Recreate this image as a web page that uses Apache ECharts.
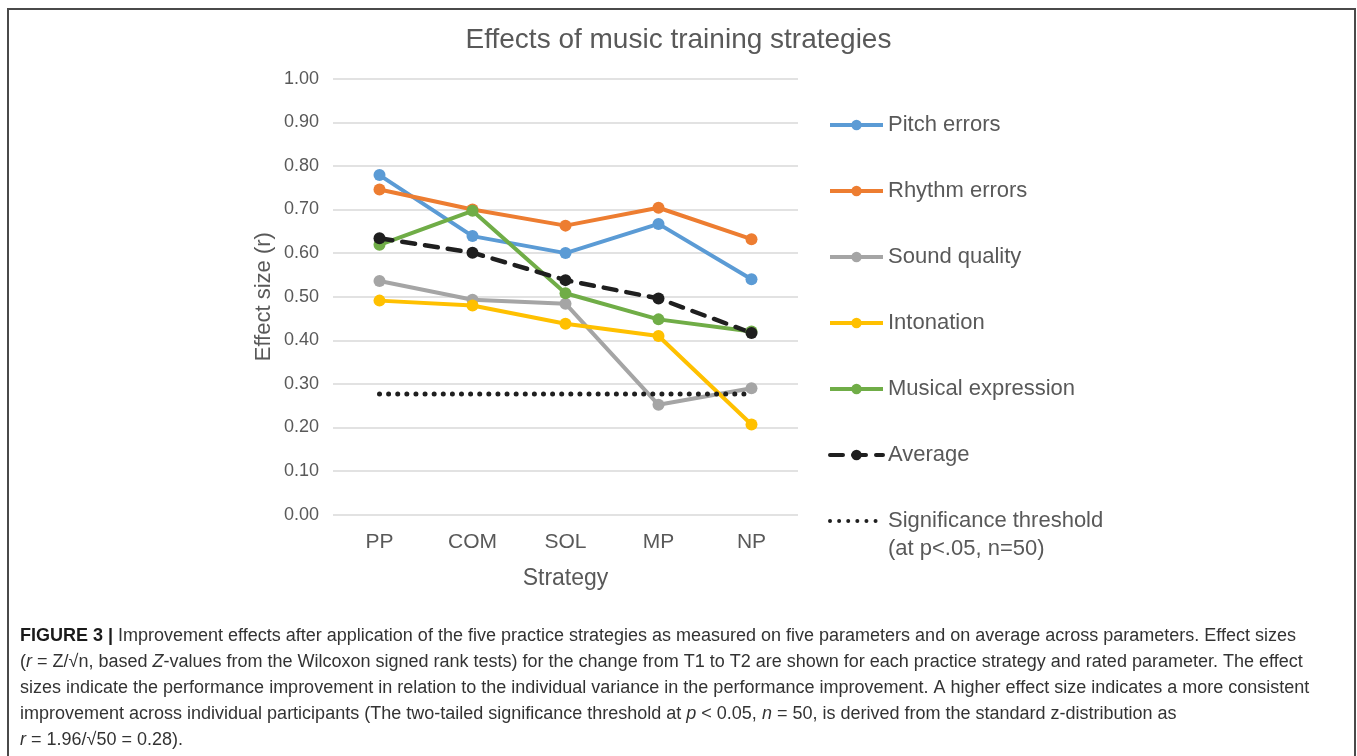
<!DOCTYPE html>
<html>
<head>
<meta charset="utf-8">
<script src="https://cdn.jsdelivr.net/npm/echarts@6/dist/echarts.min.js"></script>
<style>
  html, body { margin: 0; padding: 0; background: #fff; }
  #chart { width: 1357px; height: 756px; }
</style>
</head>
<body>
<div id="chart"></div>
<script>
// values
const categories = ['PP', 'COM', 'SOL', 'MP', 'NP'];
const pitchErrors = [0.779, 0.639, 0.600, 0.667, 0.540];
const rhythmErrors = [0.746, 0.700, 0.663, 0.704, 0.632];
const soundQuality = [0.536, 0.493, 0.484, 0.252, 0.290];
const intonation = [0.491, 0.480, 0.438, 0.410, 0.207];
const musicalExpression = [0.619, 0.697, 0.508, 0.448, 0.420];
const average = [0.634, 0.601, 0.538, 0.496, 0.417];
const threshold = [0.277, 0.277, 0.277, 0.277, 0.277];

const captionLines = [
  '{b|FIGURE 3 |} Improvement effects after application of the five practice strategies as measured on five parameters and on average across parameters. Effect sizes',
  '({i|r} = Z/√n, based {i|Z}-values from the Wilcoxon signed rank tests) for the change from T1 to T2 are shown for each practice strategy and rated parameter. The effect',
  'sizes indicate the performance improvement in relation to the individual variance in the performance improvement. A higher effect size indicates a more consistent',
  'improvement across individual participants (The two-tailed significance threshold at {i|p} < 0.05, {i|n} = 50, is derived from the standard z-distribution as',
  '{i|r} = 1.96/√50 = 0.28).'
];

const FONT = '"Liberation Sans", Arial, Helvetica, sans-serif';
const GREY = '#595959';
const CAP = 18;

var chart = echarts.init(document.getElementById('chart'));

function lineSeries(name, data, color, extra) {
  return Object.assign({
    name: name,
    type: 'line',
    data: data,
    symbol: 'circle',
    symbolSize: 12,
    itemStyle: { color: color },
    lineStyle: { color: color, width: 4 },
    emphasis: { disabled: true }
  }, extra || {});
}

chart.setOption({
  animation: false,
  textStyle: { fontFamily: FONT },
  title: {
    text: 'Effects of music training strategies',
    left: 'center',
    top: 21,
    textStyle: { color: GREY, fontSize: 28, fontWeight: 'normal', fontFamily: FONT }
  },
  grid: { left: 333, right: 559, top: 78.7, bottom: 241.3 },
  legend: {
    orient: 'vertical',
    left: 828,
    top: 112,
    padding: 0,
    itemWidth: 53,
    itemHeight: 13,
    itemGap: 40,
    lineStyle: { width: 4 },
    textStyle: { color: GREY, fontSize: 22, lineHeight: 26, fontFamily: FONT },
    data: [
      'Pitch errors', 'Rhythm errors', 'Sound quality', 'Intonation',
      'Musical expression', 'Average',
      { name: 'Significance threshold', itemStyle: { color: 'rgba(0,0,0,0)', opacity: 0, borderWidth: 0 } }
    ]
  },
  xAxis: {
    type: 'category',
    data: categories,
    axisLine: { show: false },
    axisTick: { show: false },
    axisLabel: { color: GREY, fontSize: 21, margin: 17 },
    name: 'Strategy',
    nameLocation: 'middle',
    nameGap: 52,
    nameTextStyle: { color: GREY, fontSize: 23 }
  },
  yAxis: {
    type: 'value',
    min: 0,
    max: 1,
    interval: 0.1,
    axisLine: { show: false },
    axisTick: { show: false },
    axisLabel: { color: GREY, fontSize: 18, margin: 14, formatter: v => v.toFixed(2) },
    splitLine: { lineStyle: { color: '#d9d9d9', width: 1.5 } },
    name: 'Effect size (r)',
    nameLocation: 'middle',
    nameGap: 58,
    nameTextStyle: { color: GREY, fontSize: 22 }
  },
  series: [
    lineSeries('Pitch errors', pitchErrors, '#5B9BD5'),
    lineSeries('Rhythm errors', rhythmErrors, '#ED7D31'),
    lineSeries('Sound quality', soundQuality, '#A5A5A5'),
    lineSeries('Intonation', intonation, '#FFC000'),
    lineSeries('Musical expression', musicalExpression, '#70AD47'),
    lineSeries('Average', average, '#1f1f1f', {
      lineStyle: { color: '#1f1f1f', width: 4.5, type: [13, 10], cap: 'round' }
    }),
    lineSeries('Significance threshold', threshold, '#1f1f1f', {
      symbol: 'none',
      lineStyle: { color: '#1f1f1f', width: 5, type: [0.01, 9.1], cap: 'round' }
    })
  ],
  graphic: [
    {
      type: 'rect',
      silent: true,
      shape: { x: 8, y: 9, width: 1347, height: 820 },
      style: { fill: 'none', stroke: '#4a4a4a', lineWidth: 2 }
    },
    {
      // second line of the threshold legend entry
      type: 'text',
      silent: true,
      left: 888,
      top: 538,
      style: { text: '(at p<.05, n=50)', fill: GREY, fontSize: 22, fontFamily: FONT }
    },
    {
      type: 'text',
      silent: true,
      left: 20,
      top: 623,
      style: {
        text: captionLines.join('\n'),
        fill: '#333',
        fontSize: CAP,
        fontFamily: FONT,
        lineHeight: 26,
        rich: {
          b: { fontWeight: 'bold', fill: '#1a1a1a', fontSize: CAP, fontFamily: FONT, lineHeight: 26 },
          i: { fontStyle: 'italic', fill: '#333', fontSize: CAP, fontFamily: FONT, lineHeight: 26 }
        }
      }
    }
  ]
});
</script>
</body>
</html>
